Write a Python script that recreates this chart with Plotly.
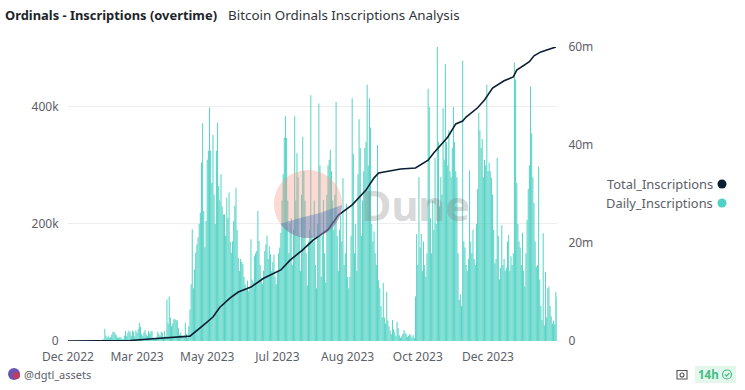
import numpy as np
import pandas as pd
import plotly.graph_objects as go

# Daily inscriptions (thousands)
dec22 = [0.2]
jan23 = [0.2,0.2,0.1,0.2,0.2,0.2,0.3,0.2,0.3,0.2, 0.3,0.2,0.3,0.3,0.2,0.3,0.3,0.4,0.3,0.3, 0.4,0.4,0.5,0.4,0.5,0.6,0.5,0.8,1.5,2,3]
feb23 = [21,9,6,8,5,7,11,16,16,13, 10,6,5,7,6,4,3,9,17,8, 14,18,15,9,18,16,8,18]
mar23 = [14,20,31,24,12,9,15,19,11,9, 17,13,16,17,6,5,4,6,16,12, 9,16,14,6,17,8,71,30,76,40, 25]
apr23 = [30,37,37,36,35,22,11,14,9,7, 8,31,12,5,25,54,97,191,90,122, 151,165,177,200,219,305,372,222,160,205]
may23 = [310,325,399,325,270,352,250,200,325,373, 265,240,285,230,216,216,180,245,210,254, 170,151,170,205,231,262,190,142,120,140, 135]
jun23 = [131,110,97,90,103,85,90,174,105,100, 145,150,154,222,171,130,108,97,120,154, 165,180,140,162,148,120,135,148,110,97]
jul23 = [120,150,160,185,240,285,348,384,347,240, 150,200,210,130,190,384,240,321,280,180, 120,250,349,290,240,150,95,170,190,420, 180]
aug23 = [170,240,130,90,200,406,300,110,180,241, 150,100,250,300,310,327,290,240,190,250, 409,180,120,190,215,170,278,130,150,235, 110]
sep23 = [90,110,180,415,320,150,200,120,285,379, 330,180,240,290,330,340,438,300,415,365, 200,170,187,150,130,335,104,90,60,40]
oct23 = [99,40,30,84,35,25,18,12,36,20, 15,8,33,22,10,5,8,12,19,14, 11,7,9,12,10,6,10,5,76,183, 130]
nov23 = [280,160,183,120,170,130,110,150,431,400, 210,150,240,190,313,200,503,340,230,280, 250,398,310,473,340,300,360,290,280,330]
dec23 = [400,340,290,280,150,70,80,60,479,170, 160,130,120,140,292,170,150,190,140,130, 200,260,390,360,330,345,280,310,300,438, 290]
jan24 = [305,290,279,250,190,133,140,313,180,105, 125,198,130,140,120,125,170,181,120,145, 130,150,476,447,270,200,170,160,130,185, 120]
feb24 = [93,150,207,260,300,435,355,280,236,170, 127,130,298,105,60,36,184,27,118,40, 90,93,60,42,30,35,28,84,75]

# Cumulative inscriptions (millions)
total_dates = ["2022-12-31","2023-01-28","2023-02-23","2023-03-12","2023-03-30","2023-04-16","2023-04-28",
               "2023-05-06","2023-05-12","2023-05-21","2023-05-28","2023-06-08","2023-06-19","2023-07-04",
               "2023-07-12","2023-07-23","2023-08-01","2023-08-14","2023-08-23","2023-09-04","2023-09-16",
               "2023-09-23","2023-09-27","2023-10-08","2023-10-16","2023-10-29","2023-11-09","2023-11-14",
               "2023-11-26","2023-12-03","2023-12-09","2023-12-12","2023-12-22","2023-12-28","2024-01-04",
               "2024-01-14","2024-01-22","2024-01-25","2024-02-05","2024-02-09","2024-02-15","2024-02-28"]
total_m = [0,0,0.1,0.4,0.7,1.0,3.3,4.9,6.9,8.8,10.0,11.0,12.8,14.5,16.5,18.6,20.6,22.7,25.7,27.8,30.8,
           33.3,34.3,34.7,35.1,35.3,36.9,38.4,41.6,44.3,44.9,45.7,47.6,49.2,51.6,53.1,53.9,55.3,57.0,58.2,59.0,60.0]

x_tickvals = ["2022-12-31","2023-03-01","2023-05-01","2023-07-01","2023-08-31","2023-10-31","2023-12-31"]
x_ticktext = ["Dec 2022","Mar 2023","May 2023","Jul 2023","Aug 2023","Oct 2023","Dec 2023"]
left_vals = [0, 200000, 400000]
left_text = ["0", "200k", "400k"]
right_vals = [0, 20e6, 40e6, 60e6]
right_text = ["0", "20m", "40m", "60m"]

daily_k = dec22 + jan23 + feb23 + mar23 + apr23 + may23 + jun23 + jul23 + aug23 + sep23 + oct23 + nov23 + dec23 + jan24 + feb24
daily = [v * 1000 for v in daily_k]
dates = pd.date_range("2022-12-31", periods=len(daily), freq="D")
totals = [v * 1e6 for v in total_m]

W, H = 745, 390
PL, PR, PT, PB = 68, 557, 47, 341   # plot area in window pixels
FONT = "Noto Sans"
TEAL = "rgba(63,205,190,0.86)"
TEAL_DOT = "#4fd2c5"
NAVY = "#0b1e33"
GREY = "#5c6068"

def px(x): return (x - PL) / (PR - PL)
def py(y): return (PB - y) / (PB - PT)

fig = go.Figure()
fig.add_bar(x=dates, y=daily, name="Daily_Inscriptions", marker=dict(color=TEAL, line=dict(width=0)), yaxis="y")
fig.add_scatter(x=total_dates, y=totals, name="Total_Inscriptions", mode="lines",
                line=dict(color=NAVY, width=1.6), yaxis="y2")

def poly(points):
    return "M" + " L".join(f"{px(a):.5f},{py(b):.5f}" for a, b in points) + " Z"

shapes = []
# Watermark logo
cx, cy, r = 308, 204, 34
th = np.linspace(0, 2 * np.pi, 80)
shapes.append(dict(type="path", xref="paper", yref="paper", layer="above", line=dict(width=0),
                   fillcolor="rgba(246,150,130,0.36)",
                   path=poly([(cx + r * np.cos(t), cy + r * np.sin(t)) for t in th])))
a0, a1 = np.arctan2(222 - cy, 283 - cx), np.arctan2(205 - cy, r)
arc = np.linspace(a1, a0, 50)
shapes.append(dict(type="path", xref="paper", yref="paper", layer="above", line=dict(width=0),
                   fillcolor="rgba(60,105,185,0.36)",
                   path=poly([(cx + r * np.cos(t), cy + r * np.sin(t)) for t in arc] + [(300, 218), (320, 213)])))
# Legend markers
for yy, col in ((184, NAVY), (203, TEAL_DOT)):
    shapes.append(dict(type="circle", xref="paper", yref="paper", x0=px(717.5), x1=px(726.5),
                       y0=py(yy + 4.5), y1=py(yy - 4.5), fillcolor=col, line=dict(width=0)))
# Footer: avatar, camera, badge
shapes.append(dict(type="circle", xref="paper", yref="paper", x0=px(8), x1=px(20), y0=py(380), y1=py(368),
                   fillcolor="#6a55b0", line=dict(width=0)))
shapes.append(dict(type="circle", xref="paper", yref="paper", x0=px(13), x1=px(20), y0=py(379), y1=py(372),
                   fillcolor="#c23a5c", line=dict(width=0)))
shapes.append(dict(type="rect", xref="paper", yref="paper", x0=px(677), x1=px(687), y0=py(379), y1=py(370.5),
                   line=dict(color="#555", width=1.1), fillcolor="white"))
shapes.append(dict(type="circle", xref="paper", yref="paper", x0=px(680), x1=px(684), y0=py(377), y1=py(373),
                   line=dict(color="#555", width=1.1), fillcolor="white"))
shapes.append(dict(type="rect", xref="paper", yref="paper", x0=px(695), x1=px(736), y0=py(383), y1=py(366),
                   line=dict(width=0), fillcolor="#e3f7ec"))
shapes.append(dict(type="circle", xref="paper", yref="paper", x0=px(722.5), x1=px(731.5), y0=py(379), y1=py(370),
                   line=dict(color="#46bd84", width=1.2), fillcolor="rgba(0,0,0,0)"))
shapes.append(dict(type="path", xref="paper", yref="paper", line=dict(color="#46bd84", width=1.2),
                   path=f"M{px(725)},{py(374.5)} L{px(726.6)},{py(376.2)} L{px(729.3)},{py(373)}"))

def note(text, x, y, size, color, anchor="left", bold=False):
    return dict(text=f"<b>{text}</b>" if bold else text, x=px(x), y=py(y), xref="paper", yref="paper",
                xanchor=anchor, yanchor="middle", showarrow=False, font=dict(family=FONT, size=size, color=color),
                borderpad=0, borderwidth=0)

annotations = [
    note("Ordinals - Inscriptions (overtime)", 5, 15, 12.9, "#20242a", bold=True),
    note("Bitcoin Ordinals Inscriptions Analysis", 228, 15, 13.4, "#30343a"),
    note("Total_Inscriptions", 713, 184, 12.9, GREY, anchor="right"),
    note("Daily_Inscriptions", 713, 203, 12.9, GREY, anchor="right"),
    note("@dgtl_assets", 24, 374, 11, GREY),
    note("14h", 698, 374.5, 11.5, "#46bd84", bold=True),
    note("Dune", 361, 205, 41.5, "rgba(120,120,120,0.30)", bold=True),
]

fig.update_layout(
    width=W, height=H, autosize=False, template=None, showlegend=False,
    paper_bgcolor="white", plot_bgcolor="white", bargap=0.1,
    margin=dict(l=PL, r=W - PR, t=PT, b=H - PB),
    font=dict(family=FONT, size=12, color=GREY),
    xaxis=dict(type="date", range=["2022-12-31", "2024-02-29"], tickmode="array", tickvals=x_tickvals,
               ticktext=x_ticktext, showgrid=False, zeroline=False, showline=False, ticks="outside",
               ticklen=5, tickcolor="rgba(0,0,0,0)", tickangle=0, tickfont=dict(size=12, color=GREY)),
    yaxis=dict(range=[0, 502500], tickmode="array", tickvals=left_vals, ticktext=left_text, showgrid=True,
               gridcolor="#eeeeee", gridwidth=1, zeroline=False, showline=False, ticks="outside", ticklen=6,
               tickcolor="rgba(0,0,0,0)", tickfont=dict(size=12, color=GREY)),
    yaxis2=dict(range=[0, 60e6], overlaying="y", side="right", tickmode="array", tickvals=right_vals,
                ticktext=right_text, showgrid=False, zeroline=False, showline=False, ticks="outside", ticklen=8,
                tickcolor="rgba(0,0,0,0)", tickfont=dict(size=12, color=GREY)),
    shapes=shapes, annotations=annotations,
)
fig.write_html("out.html", config={"displayModeBar": False},
               post_script="document.body.style.margin='0';document.documentElement.style.overflow='hidden';")
